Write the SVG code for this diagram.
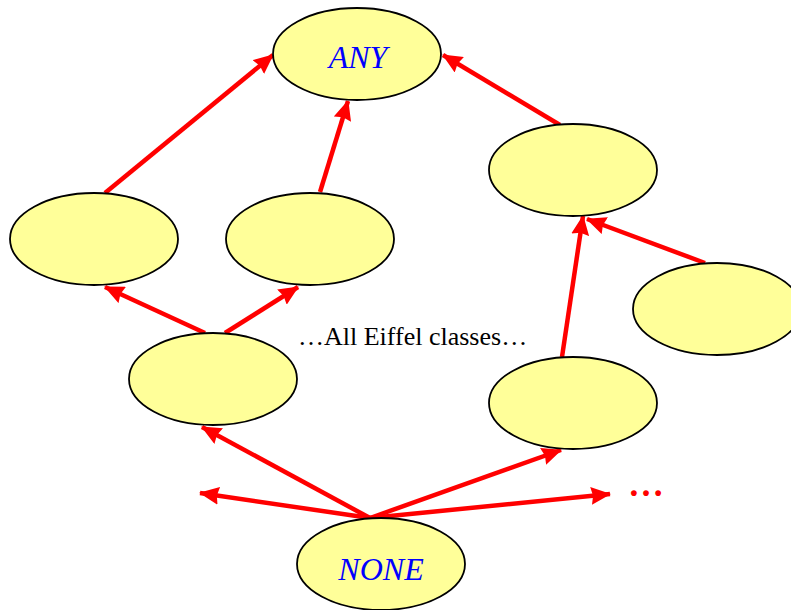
<svg xmlns="http://www.w3.org/2000/svg" width="791" height="610" viewBox="0 0 791 610">
<style>
.n{fill:#ffff99;stroke:#000;stroke-width:1.8}
.c{stroke:#ff0000;stroke-width:4.5;fill:none;marker-end:url(#ah)}
.lbl{font-family:"Liberation Serif","Times New Roman","DejaVu Serif",serif;font-style:italic;fill:#0000ff;font-size:32px;text-anchor:middle}
.t{font-family:"Liberation Serif","Times New Roman","DejaVu Serif",serif;font-size:26px;fill:#000}
</style>
<defs>
<marker id="ah" markerUnits="userSpaceOnUse" viewBox="0 0 20 18" refX="19" refY="9" markerWidth="20" markerHeight="18" orient="auto">
<path d="M0,0 L20,9 L0,18 L2,9 Z" fill="#ff0000"/>
</marker>
</defs>
<g id="connectors">
<line class="c" x1="105" y1="193" x2="273" y2="55"/>
<line class="c" x1="320" y1="192" x2="348" y2="101"/>
<line class="c" x1="560" y1="125" x2="443" y2="55"/>
<line class="c" x1="205" y1="333" x2="105" y2="287"/>
<line class="c" x1="225" y1="333" x2="298" y2="287"/>
<line class="c" x1="562" y1="357" x2="583" y2="216"/>
<line class="c" x1="705" y1="263" x2="587" y2="219"/>
<line class="c" x1="370" y1="518" x2="202" y2="427"/>
<line class="c" x1="370" y1="518" x2="561" y2="450"/>
<line class="c" x1="370" y1="518" x2="200" y2="493"/>
<line class="c" x1="370" y1="518" x2="610" y2="494"/>
</g>
<g id="ANY"><ellipse class="n" cx="357" cy="54" rx="84" ry="46"/><text class="lbl" x="358" y="68">ANY</text></g>
<g id="n1"><ellipse class="n" cx="94" cy="239" rx="84" ry="46"/></g>
<g id="n2"><ellipse class="n" cx="310" cy="239" rx="84" ry="46"/></g>
<g id="n3"><ellipse class="n" cx="573" cy="170" rx="84" ry="46"/></g>
<g id="n4"><ellipse class="n" cx="717" cy="309" rx="84" ry="46"/></g>
<g id="n5"><ellipse class="n" cx="213" cy="379" rx="84" ry="46"/></g>
<g id="n6"><ellipse class="n" cx="573" cy="403" rx="84" ry="46"/></g>
<g id="NONE"><ellipse class="n" cx="381" cy="564" rx="84" ry="46"/><text class="lbl" x="381" y="580">NONE</text></g>
<text class="t" x="298" y="345">…All Eiffel classes…</text>
<text x="628" y="496" style="font-family:'Liberation Serif',serif;font-size:36px;font-weight:bold;fill:#ff0000">…</text>
</svg>
